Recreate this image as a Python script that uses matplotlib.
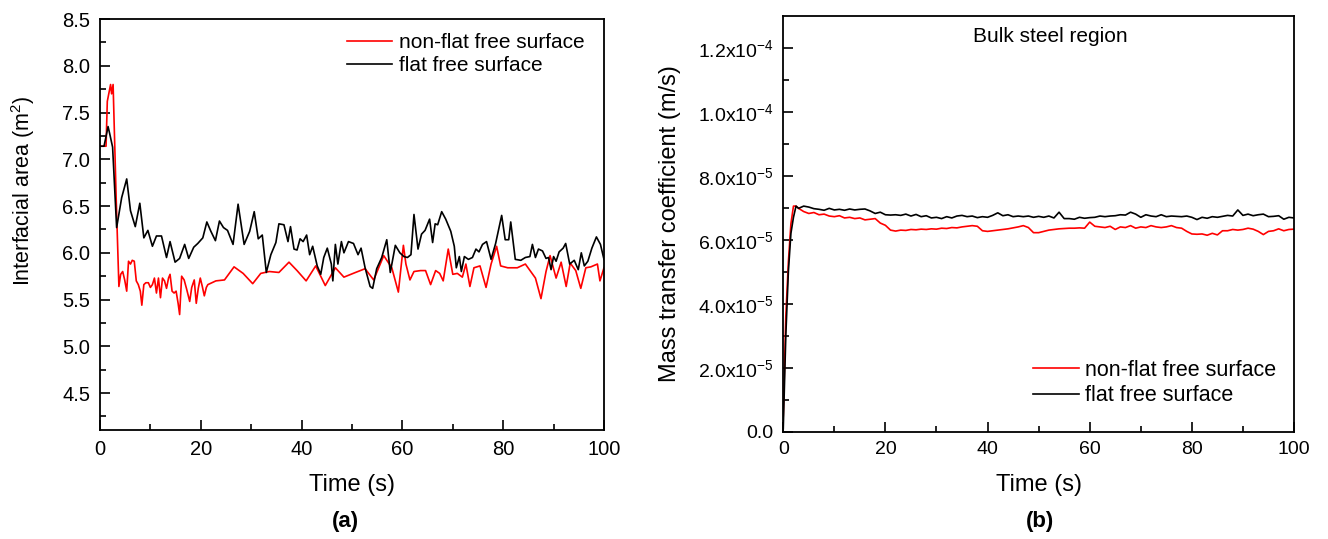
import matplotlib
matplotlib.use('Agg')
import matplotlib.pyplot as plt
import numpy as np

plt.rcParams['font.family'] = ['Liberation Sans', 'DejaVu Sans']
plt.rcParams['mathtext.default'] = 'regular'

# ---- panel (a): interfacial area ----
t_a_red = [0, 1.2, 1.45, 2.1, 2.3, 2.6, 3.2, 3.75, 4.1, 4.5, 4.9, 5.3, 5.66, 6.05, 6.4, 6.8,
           7.2, 7.6, 8.0, 8.3, 8.7, 9.1, 9.6, 10.0, 10.4, 10.8, 11.2, 11.6, 12.0, 12.4, 12.8,
           13.2, 13.6, 13.9, 14.3, 14.7, 15.1, 15.5, 15.8, 16.2, 16.7, 17.2, 17.8, 18.2, 18.7,
           19.1, 19.5, 19.9, 20.3, 20.7, 21.1, 21.4, 23.0, 24.7, 26.6, 28.4, 30.3, 31.9, 33.6,
           35.5, 37.5, 39.1, 40.9, 42.8, 44.7, 46.7, 48.4, 50.7, 52.6, 54.3, 56.3, 57.9, 59.2,
           60.2, 60.7, 61.5, 62.3, 63.6, 64.6, 65.6, 66.6, 67.4, 68.1, 69.1, 70.0, 70.9, 71.9,
           72.6, 73.4, 74.2, 75.4, 76.6, 77.6, 78.7, 79.5, 80.9, 82.8, 84.4, 86.4, 87.5, 88.5,
           89.3, 90.5, 91.5, 92.5, 93.3, 94.4, 95.4, 96.4, 97.4, 98.7, 99.2, 100]
area_red = [7.14, 7.14, 7.62, 7.80, 7.70, 7.80, 6.60, 5.64, 5.77, 5.80, 5.71, 5.59, 5.91, 5.88,
            5.92, 5.91, 5.70, 5.66, 5.59, 5.44, 5.66, 5.68, 5.68, 5.63, 5.66, 5.73, 5.57, 5.73,
            5.52, 5.73, 5.70, 5.62, 5.73, 5.77, 5.59, 5.57, 5.59, 5.46, 5.34, 5.75, 5.71, 5.61,
            5.48, 5.63, 5.71, 5.46, 5.62, 5.73, 5.64, 5.54, 5.63, 5.66, 5.70, 5.71, 5.85, 5.78,
            5.67, 5.78, 5.80, 5.79, 5.90, 5.81, 5.70, 5.86, 5.65, 5.84, 5.74, 5.79, 5.83, 5.71,
            5.97, 5.84, 5.58, 6.08, 5.88, 5.71, 5.80, 5.81, 5.81, 5.66, 5.81, 5.78, 5.70, 6.04,
            5.77, 5.78, 5.74, 5.88, 5.64, 5.84, 5.86, 5.63, 5.88, 6.07, 5.86, 5.84, 5.84, 5.88,
            5.73, 5.51, 5.80, 5.97, 5.73, 5.90, 5.64, 5.89, 5.81, 5.62, 5.84, 5.85, 5.88, 5.70,
            5.84]

t_a_black = [0, 0.8, 1.6, 1.9, 2.5, 3.3, 4.3, 5.3, 6.05, 7.0, 7.9, 8.7, 9.5, 10.4, 11.2, 12.2,
             13.2, 13.9, 14.9, 15.8, 16.8, 17.6, 18.6, 19.4, 20.4, 21.2, 22.0, 22.9, 23.7, 24.5,
             25.3, 26.4, 27.4, 28.6, 29.7, 30.6, 31.4, 32.2, 33.0, 33.9, 34.9, 35.5, 36.5, 37.3,
             37.8, 38.5, 39.1, 39.7, 40.3, 41.0, 41.6, 42.2, 43.1, 43.8, 44.4, 45.1, 45.9, 46.2,
             46.7, 47.2, 47.9, 48.4, 49.3, 50.3, 51.2, 51.8, 52.6, 53.6, 54.1, 54.9, 55.9, 56.9,
             57.6, 58.6, 59.5, 60.3, 61.0, 61.7, 62.3, 63.1, 63.8, 64.5, 65.4, 66.0, 66.5, 67.0,
             67.8, 68.6, 69.6, 70.3, 70.7, 71.3, 71.7, 72.3, 73.1, 73.9, 74.6, 75.2, 75.9, 76.7,
             77.6, 78.5, 79.7, 80.4, 81.1, 81.5, 82.4, 83.5, 84.4, 85.3, 85.8, 86.4, 87.0, 87.8,
             88.5, 89.0, 89.5, 90.0, 90.5, 91.1, 91.9, 92.4, 93.2, 94.1, 94.9, 95.5, 96.1, 96.8,
             97.6, 98.5, 99.3, 100]
area_black = [7.14, 7.14, 7.35, 7.28, 7.13, 6.27, 6.59, 6.79, 6.45, 6.28, 6.53, 6.16, 6.24, 6.07,
              6.18, 6.18, 5.95, 6.12, 5.90, 5.94, 6.09, 5.94, 6.06, 6.10, 6.16, 6.33, 6.23, 6.13,
              6.34, 6.27, 6.24, 6.09, 6.52, 6.09, 6.23, 6.44, 6.15, 6.19, 5.79, 5.98, 6.11, 6.31,
              6.30, 6.12, 6.28, 6.04, 6.03, 6.15, 6.12, 6.19, 5.98, 6.07, 5.86, 5.77, 5.95, 6.05,
              5.88, 5.70, 6.09, 5.88, 6.12, 6.00, 6.12, 6.10, 5.98, 6.05, 5.84, 5.64, 5.62, 5.83,
              5.95, 6.14, 5.79, 6.08, 6.00, 5.96, 5.95, 5.98, 6.41, 6.04, 6.20, 6.24, 6.36, 6.11,
              6.31, 6.30, 6.44, 6.36, 6.23, 6.07, 5.84, 5.96, 5.80, 5.96, 5.93, 5.95, 6.04, 6.01,
              6.09, 6.12, 5.93, 6.10, 6.40, 6.14, 6.14, 6.33, 5.93, 5.92, 5.95, 5.96, 6.09, 5.95,
              6.04, 6.02, 5.94, 5.95, 5.82, 5.96, 5.91, 6.01, 6.05, 6.10, 5.88, 5.92, 5.82, 6.00,
              5.86, 5.91, 6.05, 6.17, 6.09, 5.93]

# ---- panel (b): mass transfer coefficient (x1e-5 m/s) ----
t_b = np.concatenate([[0, 0.5, 1, 1.5, 2, 2.5], np.arange(3, 101)])
k_red = [0.5, 3.6, 5.3, 6.5, 7.05, 7.05,
         6.98, 6.88, 6.82, 6.85, 6.78, 6.80, 6.74, 6.72, 6.75, 6.68, 6.70, 6.66, 6.68, 6.62,
         6.64, 6.66, 6.52, 6.45, 6.30, 6.27, 6.30, 6.29, 6.32, 6.31, 6.33, 6.32, 6.34, 6.33,
         6.36, 6.35, 6.38, 6.37, 6.40, 6.42, 6.44, 6.42, 6.28, 6.26, 6.28, 6.30, 6.32, 6.34,
         6.37, 6.40, 6.44, 6.38, 6.22, 6.22, 6.26, 6.30, 6.32, 6.34, 6.35, 6.36, 6.36, 6.37,
         6.36, 6.55, 6.42, 6.40, 6.38, 6.42, 6.32, 6.40, 6.38, 6.44, 6.36, 6.40, 6.38, 6.44,
         6.40, 6.38, 6.40, 6.44, 6.38, 6.36, 6.26, 6.18, 6.17, 6.18, 6.14, 6.20, 6.15, 6.28,
         6.28, 6.32, 6.30, 6.32, 6.36, 6.33, 6.26, 6.16, 6.26, 6.28, 6.34, 6.28, 6.32, 6.33]
k_black = [0.1, 3.0, 5.0, 6.2, 6.7, 7.05,
           6.98, 7.05, 7.02, 6.97, 6.95, 6.92, 6.98, 6.93, 6.95, 6.92, 6.96, 6.93, 6.95, 6.96,
           6.90, 6.82, 6.86, 6.78, 6.77, 6.78, 6.76, 6.80, 6.74, 6.79, 6.72, 6.75, 6.68, 6.70,
           6.66, 6.72, 6.68, 6.74, 6.76, 6.72, 6.74, 6.69, 6.72, 6.70, 6.76, 6.84, 6.75, 6.78,
           6.72, 6.74, 6.72, 6.74, 6.70, 6.73, 6.70, 6.74, 6.68, 6.86, 6.66, 6.66, 6.64, 6.70,
           6.67, 6.69, 6.70, 6.74, 6.72, 6.74, 6.75, 6.78, 6.77, 6.86, 6.80, 6.70, 6.78, 6.74,
           6.72, 6.78, 6.72, 6.74, 6.73, 6.72, 6.74, 6.70, 6.63, 6.70, 6.67, 6.72, 6.70, 6.73,
           6.76, 6.74, 6.93, 6.76, 6.80, 6.75, 6.78, 6.80, 6.72, 6.73, 6.75, 6.64, 6.70, 6.68]
k_ticks = [0, 2e-5, 4e-5, 6e-5, 8e-5, 1e-4, 1.2e-4]
k_ticklabels = ['0.0', '2.0x10$^{-5}$', '4.0x10$^{-5}$', '6.0x10$^{-5}$',
                '8.0x10$^{-5}$', '1.0x10$^{-4}$', '1.2x10$^{-4}$']

fig = plt.figure(figsize=(13.28, 5.39), dpi=100)
ax1 = fig.add_axes([0.0753, 0.2013, 0.3795, 0.7634])
ax2 = fig.add_axes([0.5898, 0.1990, 0.3846, 0.7719])

ax1.plot(t_a_red, area_red, color='#ff0000', lw=1.2, label='non-flat free surface')
ax1.plot(t_a_black, area_black, color='black', lw=1.2, label='flat free surface')
ax1.set_xlim(0, 100)
ax1.set_ylim(4.1, 8.5)
ax1.set_yticks(np.arange(4.5, 8.51, 0.5))
ax1.set_yticks(np.arange(4.25, 8.5, 0.25), minor=True)
ax1.set_ylabel('Interfacial area (m$^2$)', fontsize=15.5)
ax1.legend(loc='upper right', frameon=False, fontsize=15, handlelength=2.2,
           handletextpad=0.3, labelspacing=0.2, bbox_to_anchor=(0.998, 1.012))

k_scale = 1e-5
ax2.plot(t_b, np.array(k_red) * k_scale, color='#ff0000', lw=1.2, label='non-flat free surface')
ax2.plot(t_b, np.array(k_black) * k_scale, color='black', lw=1.2, label='flat free surface')
ax2.set_xlim(0, 100)
ax2.set_ylim(0, 1.3e-4)
ax2.set_yticks(k_ticks)
ax2.set_yticklabels(k_ticklabels)
ax2.set_yticks(np.arange(1e-5, 1.3e-4, 2e-5), minor=True)
ax2.set_ylabel('Mass transfer coefficient (m/s)', fontsize=17)
ax2.text(0.371, 0.951, 'Bulk steel region', transform=ax2.transAxes, fontsize=15,
         va='center', ha='left')
ax2.legend(loc='lower right', frameon=False, fontsize=15.5, handlelength=2.1,
           handletextpad=0.3, labelspacing=0.2, bbox_to_anchor=(1.003, 0.015))

for ax in (ax1, ax2):
    ax.set_xticks(np.arange(0, 101, 20))
    ax.set_xticks(np.arange(10, 100, 20), minor=True)
    ax.set_xlabel('Time (s)', fontsize=17, labelpad=11)
    ax.tick_params(which='both', direction='in', top=False, right=False,
                   labelsize=14, width=1.2, pad=7)
    ax.tick_params(which='major', length=7)
    ax.tick_params(which='minor', length=4)
    for s in ax.spines.values():
        s.set_linewidth(1.3)

ax1.tick_params(axis='both', labelsize=14.5)
ax1.yaxis.set_label_coords(-0.125, 0.582)
ax2.yaxis.set_label_coords(-0.2, 0.5)

fig.text(345 / 1328, 1 - 521 / 539, '(a)', fontsize=16, fontweight='bold', ha='center', va='center')
fig.text(1040 / 1328, 1 - 521 / 539, '(b)', fontsize=16, fontweight='bold', ha='center', va='center')

fig.savefig('out.png', dpi=100)
